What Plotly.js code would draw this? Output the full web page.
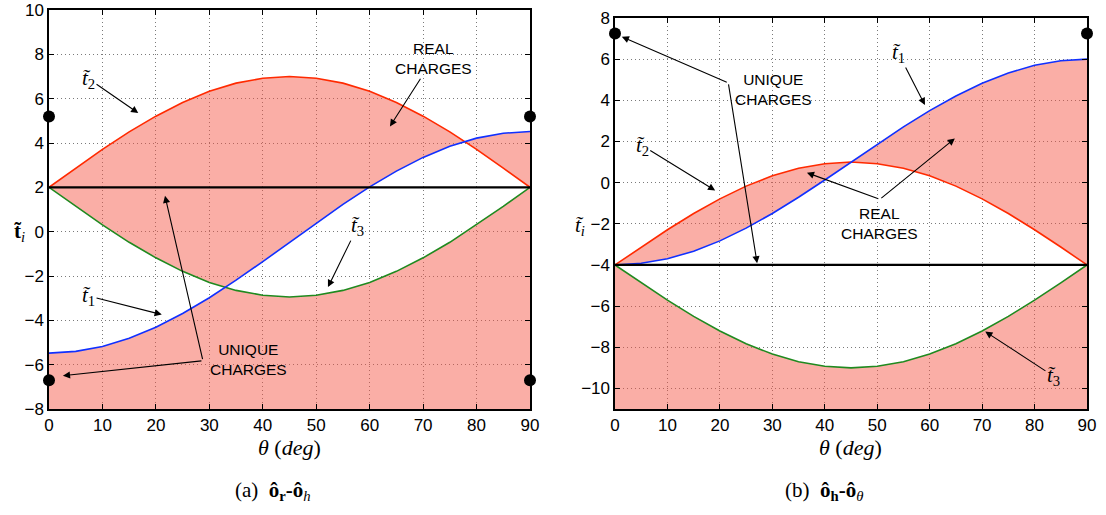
<!DOCTYPE html>
<html>
<head>
<meta charset="utf-8">
<script src="https://cdn.plot.ly/plotly-3.0.1.min.js"></script>
<style>html,body{margin:0;padding:0;background:#fff;}#chart{width:1106px;height:515px;}</style>
</head>
<body>
<div id="chart"></div>
<script>
// ---- data ----
const theta = [0,5,10,15,20,25,30,35,40,45,50,55,60,65,70,75,80,85,90];

// (a) o_r - o_h
const a_t1 = [-5.48,-5.40,-5.18,-4.81,-4.31,-3.69,-2.98,-2.19,-1.35,-0.48,0.39,1.23,2.02,2.73,3.35,3.85,4.22,4.44,4.52];
const a_t2 = [2.00,2.87,3.71,4.50,5.21,5.83,6.33,6.70,6.92,7.00,6.92,6.70,6.33,5.83,5.21,4.50,3.71,2.87,2.00];
const a_t3 = [2.00,1.14,0.31,-0.48,-1.18,-1.79,-2.29,-2.65,-2.87,-2.95,-2.87,-2.65,-2.29,-1.79,-1.18,-0.48,0.31,1.14,2.00];
const a_unique = 2;
const a_dots = [5.2, -6.7];

// (b) o_h - o_theta
const b_t1 = [-4.00,-3.92,-3.70,-3.33,-2.83,-2.21,-1.50,-0.71,0.13,1.00,1.87,2.71,3.50,4.21,4.83,5.33,5.70,5.92,6.00];
const b_t2 = [-4.00,-3.13,-2.29,-1.50,-0.79,-0.17,0.33,0.70,0.92,1.00,0.92,0.70,0.33,-0.17,-0.79,-1.50,-2.29,-3.13,-4.00];
const b_t3 = [-4.00,-4.87,-5.71,-6.50,-7.21,-7.83,-8.33,-8.70,-8.92,-9.00,-8.92,-8.70,-8.33,-7.83,-7.21,-6.50,-5.71,-4.87,-4.00];
const b_unique = -4;
const b_dots = [7.25];

const xTicks = [0,10,20,30,40,50,60,70,80,90];
const a_range = [-8, 10];
const b_range = [-11, 8];

// ---- styles ----
const RED = '#ff2a00', BLUE = '#1030ff', GREEN = '#1f8a1f';
const FILL = 'rgba(245,85,70,0.48)';

function envelope(x, s1, s2, s3) {
  const S = [s1, s2, s3];
  const X = [], MX = [], MD = [], MN = [];
  const push = (xx, vals) => {
    const v = vals.slice().sort((a, b) => a - b);
    X.push(xx); MN.push(v[0]); MD.push(v[1]); MX.push(v[2]);
  };
  for (let i = 0; i < x.length - 1; i++) {
    push(x[i], S.map(s => s[i]));
    const ts = [];
    for (let p = 0; p < 3; p++) for (let q = p + 1; q < 3; q++) {
      const d0 = S[p][i] - S[q][i], d1 = S[p][i+1] - S[q][i+1];
      if (d0 * d1 < 0) ts.push(d0 / (d0 - d1));
    }
    ts.sort((a, b) => a - b);
    ts.forEach(t => push(x[i] + t * (x[i+1] - x[i]), S.map(s => s[i] + t * (s[i+1] - s[i]))));
  }
  const n = x.length - 1;
  push(x[n], S.map(s => s[n]));
  return {X, MX, MD, MN};
}

function panel(xa, ya, t1, t2, t3, uniq, dots, dotXs, range) {
  const e = envelope(theta, t1, t2, t3);
  const rev = a => a.slice().reverse();
  const tr = [];
  tr.push({x: e.X.concat(rev(e.X)), y: e.MX.concat(rev(e.MD)), xaxis: xa, yaxis: ya,
    type: 'scatter', mode: 'lines', fill: 'toself', fillcolor: FILL, line: {width: 0}, hoverinfo: 'skip', showlegend: false});
  tr.push({x: e.X.concat([e.X[e.X.length-1], e.X[0]]), y: e.MN.concat([range[0], range[0]]), xaxis: xa, yaxis: ya,
    type: 'scatter', mode: 'lines', fill: 'toself', fillcolor: FILL, line: {width: 0}, hoverinfo: 'skip', showlegend: false});
  [[t2, RED], [t3, GREEN], [t1, BLUE]].forEach(([s, c]) => tr.push({x: theta, y: s, xaxis: xa, yaxis: ya,
    type: 'scatter', mode: 'lines', line: {color: c, width: 1.6}, showlegend: false}));
  tr.push({x: [theta[0], theta[theta.length-1]], y: [uniq, uniq], xaxis: xa, yaxis: ya,
    type: 'scatter', mode: 'lines', line: {color: '#000', width: 2.2}, showlegend: false});
  const dx = [], dy = [];
  dotXs.forEach(xx => dots.forEach(v => { dx.push(xx); dy.push(v); }));
  tr.push({x: dx, y: dy, xaxis: xa, yaxis: ya, type: 'scatter', mode: 'markers', cliponaxis: false,
    marker: {color: '#000', size: 12}, showlegend: false});
  return tr;
}

const data = panel('x', 'y', a_t1, a_t2, a_t3, a_unique, a_dots, [theta[0], theta[theta.length-1]], a_range)
  .concat(panel('x2', 'y2', b_t1, b_t2, b_t3, b_unique, b_dots, [theta[0], theta[theta.length-1]], b_range));

const SANS = 'Liberation Sans, Arial, sans-serif';
const SERIF = 'Liberation Serif, DejaVu Serif, serif';
const GRID = {showgrid: true, griddash: '1px,3px', gridcolor: '#7a7a7a', gridwidth: 1};

function xax(domain, anchor) {
  return Object.assign({domain, anchor, range: [0, 90], tickvals: xTicks,
    showline: true, mirror: 'ticks', linecolor: '#000', linewidth: 1.6, ticks: 'inside', ticklen: 5, tickcolor: '#000',
    zeroline: false, tickfont: {family: SANS, size: 17, color: '#000'}}, GRID);
}
function yax(domain, anchor, range) {
  return Object.assign({domain, anchor, range, tick0: 0, dtick: 2,
    showline: true, mirror: 'ticks', linecolor: '#000', linewidth: 1.6, ticks: 'inside', ticklen: 5, tickcolor: '#000',
    zeroline: false, tickfont: {family: SANS, size: 17, color: '#000'}}, GRID);
}

const TXT = {family: SANS, size: 15.5, color: '#000'};
const MATH = {family: SERIF, size: 21, color: '#000'};
const AR = {showarrow: true, arrowhead: 2, arrowsize: 1.3, arrowwidth: 1.1, arrowcolor: '#000', standoff: 0, startstandoff: 0};
function label(xr, yr, x, y, text, font) {
  return {xref: xr, yref: yr, x, y, text, font, showarrow: false, xanchor: 'center', yanchor: 'middle'};
}
// text placed at the arrow's tail (lx, ly), arrow pointing to (x1, y1)
function labelArrow(xr, yr, lx, ly, x1, y1, text, font) {
  return Object.assign({xref: xr, yref: yr, axref: xr, ayref: yr, ax: lx, ay: ly, x: x1, y: y1, text, font}, AR);
}
function arrow(xr, yr, x0, y0, x1, y1) {
  return Object.assign({xref: xr, yref: yr, axref: xr, ayref: yr, ax: x0, ay: y0, x: x1, y: y1, text: ''}, AR);
}

const annotations = [
  // (a)
  labelArrow('x', 'y', 7.4, 6.9, 16.7, 5.35, '<i>t̃</i><sub>2</sub>', MATH),
  labelArrow('x', 'y', 7.4, -2.9, 21.1, -3.74, '<i>t̃</i><sub>1</sub>', MATH),
  labelArrow('x', 'y', 57.8, 0.25, 52.2, -2.5, '<i>t̃</i><sub>3</sub>', MATH),
  labelArrow('x', 'y', 71.9, 7.8, 63.8, 4.75, 'REAL<br>CHARGES', TXT),
  label('x', 'y', 37.3, -5.78, 'UNIQUE<br>CHARGES', TXT),
  arrow('x', 'y', 28.8, -5.82, 2.6, -6.5),
  arrow('x', 'y', 28.8, -5.82, 21.7, 1.62),
  {xref: 'paper', yref: 'y', x: 19/1106, y: 0, text: '<b>t̃</b><sub><i>i</i></sub>', font: MATH, showarrow: false, xanchor: 'center', yanchor: 'middle'},
  // (b)
  labelArrow('x2', 'y2', 5.2, 1.8, 19.1, -0.38, '<i>t̃</i><sub>2</sub>', MATH),
  labelArrow('x2', 'y2', 54.0, 6.3, 59.1, 3.77, '<i>t̃</i><sub>1</sub>', MATH),
  labelArrow('x2', 'y2', 83.6, -9.4, 70.6, -7.24, '<i>t̃</i><sub>3</sub>', MATH),
  label('x2', 'y2', 30.2, 4.55, 'UNIQUE<br>CHARGES', TXT),
  arrow('x2', 'y2', 21.6, 4.85, 1.3, 7.09),
  arrow('x2', 'y2', 21.6, 4.85, 27.1, -3.92),
  label('x2', 'y2', 50.5, -2.0, 'REAL<br>CHARGES', TXT),
  arrow('x2', 'y2', 50.5, -0.81, 36.6, 0.48),
  arrow('x2', 'y2', 50.5, -0.81, 64.8, 2.15),
  {xref: 'paper', yref: 'y2', x: 580/1106, y: -2.1, text: '<i>t̃</i><sub><i>i</i></sub>', font: MATH, showarrow: false, xanchor: 'center', yanchor: 'middle'},
  // x-axis titles
  {xref: 'paper', yref: 'paper', x: 289.5/1106, y: 1 - 447/515, xanchor: 'center', yanchor: 'middle', showarrow: false,
   text: '<i>θ</i> (<i>deg</i>)', font: {family: SERIF, size: 22, color: '#000'}},
  {xref: 'paper', yref: 'paper', x: 851/1106, y: 1 - 447/515, xanchor: 'center', yanchor: 'middle', showarrow: false,
   text: '<i>θ</i> (<i>deg</i>)', font: {family: SERIF, size: 22, color: '#000'}},
  // captions
  {xref: 'paper', yref: 'paper', x: 233/1106, y: 1 - 491/515, xanchor: 'left', yanchor: 'middle', showarrow: false,
   text: '(a)  <b>ô</b><sub><b>r</b></sub><b>-ô</b><sub><i>h</i></sub>', font: {family: SERIF, size: 21, color: '#000'}},
  {xref: 'paper', yref: 'paper', x: 783/1106, y: 1 - 491/515, xanchor: 'left', yanchor: 'middle', showarrow: false,
   text: '(b)  <b>ô</b><sub><b>h</b></sub><b>-ô</b><sub><i>θ</i></sub>', font: {family: SERIF, size: 21, color: '#000'}}
];

const layout = {
  width: 1106, height: 515, margin: {l: 0, r: 0, t: 0, b: 0},
  paper_bgcolor: '#fff', plot_bgcolor: '#fff', showlegend: false,
  xaxis: xax([49/1106, 530/1106], 'y'),
  yaxis: yax([1 - 409/515, 1 - 10/515], 'x', a_range),
  xaxis2: xax([615/1106, 1087/1106], 'y2'),
  yaxis2: yax([1 - 409/515, 1 - 18/515], 'x2', b_range),
  annotations
};

Plotly.newPlot('chart', data, layout, {displayModeBar: false, staticPlot: true});
</script>
</body>
</html>
